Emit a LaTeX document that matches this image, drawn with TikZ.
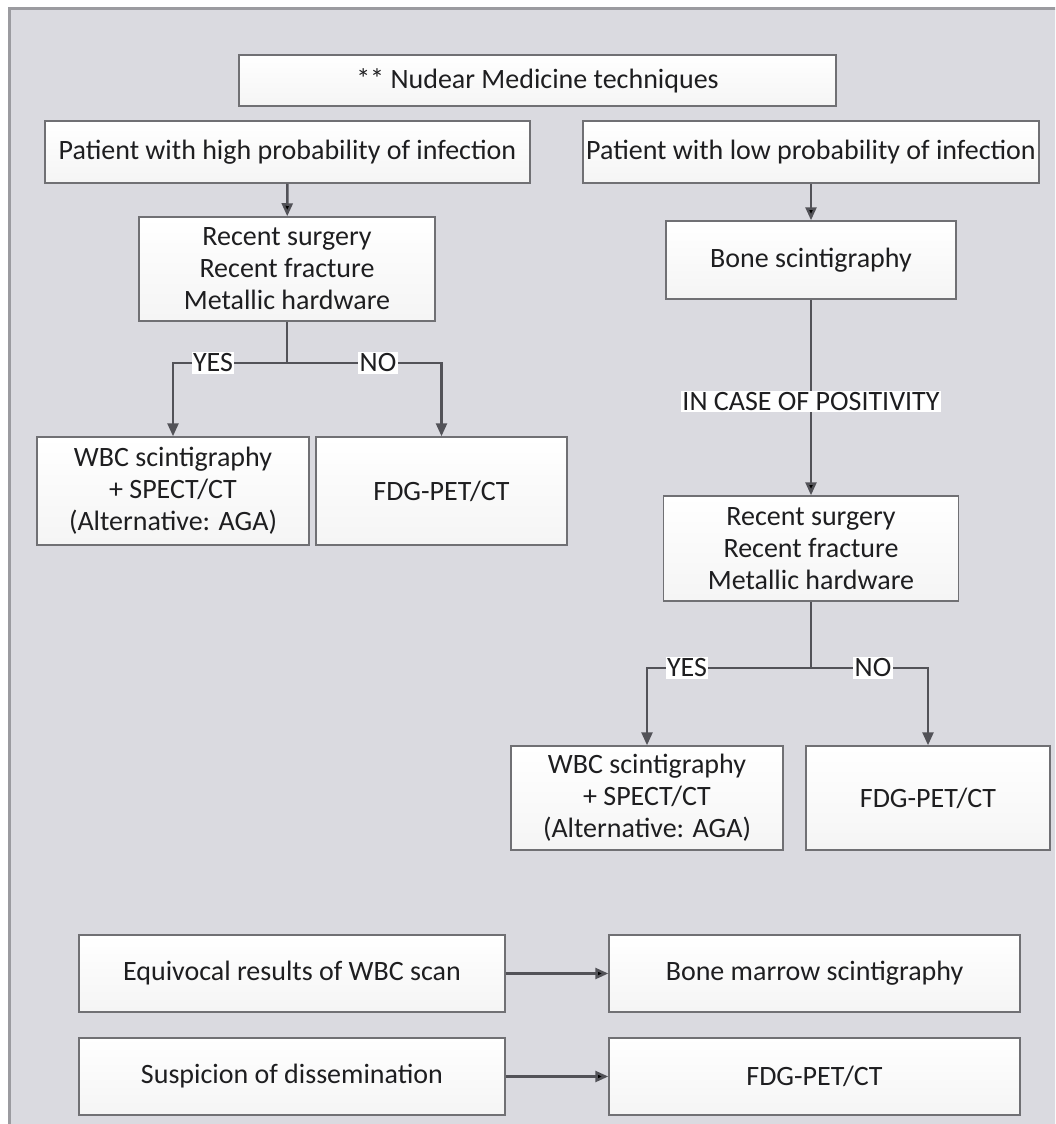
\documentclass[tikz,border=0pt]{standalone}
\usepackage{fontspec}
\setmainfont{Carlito}
\usetikzlibrary{arrows.meta}
\definecolor{panel}{RGB}{218,218,224}
\definecolor{frame}{RGB}{155,155,160}
\definecolor{boxline}{RGB}{112,112,116}
\definecolor{wire}{RGB}{82,82,88}
\definecolor{ink}{RGB}{30,30,32}
\tikzset{
  block/.style={
    rectangle,
    draw=boxline, line width=1.5pt,
    top color=white, bottom color=black!4,
    text=ink, align=center, inner sep=2pt
  },
  answer/.style={fill=white, text=ink, inner sep=1.5pt},
  flow/.style={-{Triangle[length=13pt,width=11pt]}, draw=wire, line width=2.5pt},
}

\begin{document}
\begin{tikzpicture}[x=1pt,y=-1pt,font=\fontsize{28}{32}\selectfont]
      \clip (0,0) rectangle (1055,1124);
      \fill[white] (0,0) rectangle (1055,1124);
      \draw[frame, fill=panel, line width=3pt] (9,9) rectangle (1080,1150);

      % header and the two entry points
      \node[block, minimum width=597pt, minimum height=51pt] (title) at (537.5,80.5) {** Nudear Medicine techniques};
      \node[block, minimum width=485pt, minimum height=62pt] (high) at (287.5,152) {Patient with high probability of infection};
      \node[block, minimum width=456pt, minimum height=62pt] (low) at (811,152) {Patient with low probability of infection};

      % high probability branch
      \node[block, minimum width=296pt, minimum height=104pt] (riskL) at (287,269) {Recent surgery\\Recent fracture\\Metallic hardware};
      \node[block, minimum width=272pt, minimum height=108pt] (wbcL) at (173,491) {WBC scintigraphy\\+ SPECT/CT\\(Alternative: AGA)};
      \node[block, minimum width=251pt, minimum height=108pt] (fdgL) at (441.5,491) {FDG-PET/CT};
      \coordinate (splitL) at (287,363);

      % low probability branch
      \node[block, minimum width=290pt, minimum height=78pt] (bone) at (811,260) {Bone scintigraphy};
      \node[block, minimum width=295pt, minimum height=105pt] (riskR) at (811,548.5) {Recent surgery\\Recent fracture\\Metallic hardware};
      \node[block, minimum width=272pt, minimum height=104pt] (wbcR) at (647,798) {WBC scintigraphy\\+ SPECT/CT\\(Alternative: AGA)};
      \node[block, minimum width=244pt, minimum height=104pt] (fdgR) at (928,798) {FDG-PET/CT};
      \coordinate (splitR) at (811,668);

      % extra indications
      \node[block, minimum width=426pt, minimum height=77pt] (equiv) at (292,973.5) {Equivocal results of WBC scan};
      \node[block, minimum width=411pt, minimum height=77pt] (marrow) at (814.5,973.5) {Bone marrow scintigraphy};
      \node[block, minimum width=426pt, minimum height=77pt] (spread) at (292,1076.5) {Suspicion of dissemination};
      \node[block, minimum width=411pt, minimum height=77pt] (fdgB) at (814.5,1076.5) {FDG-PET/CT};

      \path[flow]
      (high) edge (riskL)
      (low) edge (bone)
      (bone) edge node[answer, pos=0.52]{IN CASE OF POSITIVITY} (riskR)
      (equiv) edge (marrow)
      (spread) edge (fdgB);

      \draw[flow] (riskL.south) -- (splitL) -| (wbcL.north);
      \draw[flow] (splitL) -| (fdgL.north);
      \draw[flow] (riskR.south) -- (splitR) -| (wbcR.north);
      \draw[flow] (splitR) -| (fdgR.north);

      \node[answer] (yesL) at (213,363) {YES};
      \node[answer] (noL) at (378,363) {NO};
      \node[answer] (yesR) at (687,668) {YES};
      \node[answer] (noR) at (873,668) {NO};
    \end{tikzpicture}
\end{document}
